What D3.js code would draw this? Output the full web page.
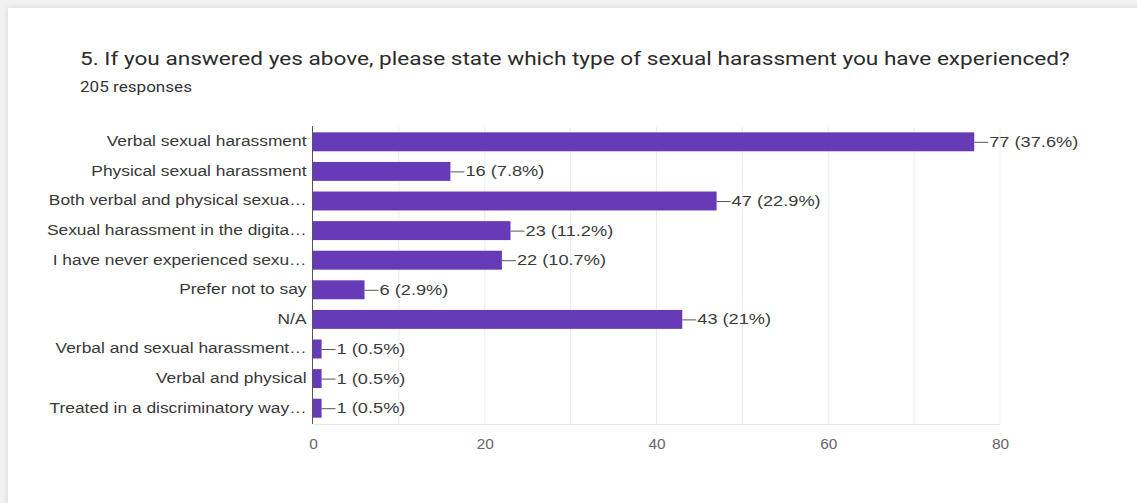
<!DOCTYPE html>
<html>
<head>
<meta charset="utf-8">
<script src="https://cdn.jsdelivr.net/npm/d3@7"></script>
<style>
  html, body { margin: 0; padding: 0; background: #f1f1f1; }
  svg { display: block; }
</style>
</head>
<body>
<svg id="chart" width="1137" height="503"></svg>
<script>
// Survey answers, counts and shares
const categories = [
  "Verbal sexual harassment",
  "Physical sexual harassment",
  "Both verbal and physical sexua…",
  "Sexual harassment in the digita…",
  "I have never experienced sexu…",
  "Prefer not to say",
  "N/A",
  "Verbal and sexual harassment…",
  "Verbal and physical",
  "Treated in a discriminatory way…"
];
const counts = [77, 16, 47, 23, 22, 6, 43, 1, 1, 1];
const percents = ["37.6%", "7.8%", "22.9%", "11.2%", "10.7%", "2.9%", "21%", "0.5%", "0.5%", "0.5%"];
const tickValues = [0, 20, 40, 60, 80];
const gridValues = [10, 20, 30, 40, 50, 60, 70, 80];

const title = "5. If you answered yes above, please state which type of sexual harassment you have experienced?";
const subtitle = "205 responses";

const svg = d3.select("#chart");

// widen text horizontally by factor k
function stretch(sel, k) {
  sel.each(function () {
    const w = this.getComputedTextLength();
    d3.select(this).attr("textLength", w * k).attr("lengthAdjust", "spacingAndGlyphs");
  });
}

// card with a soft shadow
const defs = svg.append("defs");
const f = defs.append("filter").attr("id", "shadow").attr("x", "-5%").attr("y", "-5%").attr("width", "110%").attr("height", "110%");
f.append("feDropShadow").attr("dx", 0).attr("dy", 0).attr("stdDeviation", 3).attr("flood-color", "#000").attr("flood-opacity", 0.12);

svg.append("rect").attr("x", 8).attr("y", 8).attr("width", 1160).attr("height", 520)
  .attr("fill", "#fff").attr("filter", "url(#shadow)");

const tTitle = svg.append("text").attr("x", 80).attr("y", 65)
  .attr("font-family", "Roboto, Arial, sans-serif").attr("font-size", 19)
  .attr("fill", "#2b2b2b").text(title);
stretch(tTitle, 1.19);
const tSub = svg.append("text").attr("x", 80).attr("y", 92)
  .attr("font-family", "Roboto, Arial, sans-serif").attr("font-size", 14)
  .attr("fill", "#333").text(subtitle);
stretch(tSub, 1.22);

const x = d3.scaleLinear().domain([0, 80]).range([313, 1000]);
const y = d3.scaleBand().domain(categories).range([127, 423]).paddingInner(0.36).paddingOuter(0.18);

const font = "'Liberation Sans', Arial, sans-serif";

// vertical gridlines
svg.append("g").selectAll("line").data(gridValues).join("line")
  .attr("x1", d => x(d)).attr("x2", d => x(d))
  .attr("y1", 127).attr("y2", 424)
  .attr("stroke", "#ebebeb").attr("stroke-width", 1);

// bottom frame line
svg.append("line").attr("x1", 313).attr("x2", 1000).attr("y1", 424.5).attr("y2", 424.5)
  .attr("stroke", "#e6e6e6");

// category axis
const yAxis = d3.axisLeft(y).tickSize(0).tickPadding(6);
const gy = svg.append("g").attr("transform", "translate(312.5,0)").call(yAxis);
gy.select(".domain").attr("stroke", "#555").attr("d", "M0,126V424");
gy.selectAll("text").attr("font-family", font).attr("font-size", 14).attr("fill", "#383838");
stretch(gy.selectAll("text"), 1.24);

// value axis labels
const xAxis = d3.axisBottom(x).tickValues(tickValues).tickSize(0).tickPadding(15);
const gx = svg.append("g").attr("transform", "translate(0,424)").call(xAxis);
gx.select(".domain").remove();
gx.selectAll("text").attr("font-family", font).attr("font-size", 14).attr("fill", "#666");
stretch(gx.selectAll("text"), 1.1);

// bars
const rows = categories.map((c, i) => ({ c, v: counts[i], p: percents[i] }));
svg.append("g").selectAll("rect").data(rows).join("rect")
  .attr("x", x(0)).attr("y", d => y(d.c))
  .attr("width", d => x(d.v) - x(0)).attr("height", y.bandwidth())
  .attr("fill", "#673ab7");

// value labels with leader lines
const lab = svg.append("g").selectAll("g").data(rows).join("g")
  .attr("transform", d => `translate(${x(d.v)},${y(d.c) + y.bandwidth() / 2})`);
lab.append("line").attr("x1", 0).attr("x2", 14).attr("y1", 0.5).attr("y2", 0.5)
  .attr("stroke", "#555").attr("stroke-width", 1);
const vt = lab.append("text").attr("x", 15).attr("dy", "0.35em")
  .attr("font-family", font).attr("font-size", 14).attr("fill", "#3a3a3a")
  .text(d => `${d.v} (${d.p})`);
stretch(vt, 1.3);
</script>
</body>
</html>
